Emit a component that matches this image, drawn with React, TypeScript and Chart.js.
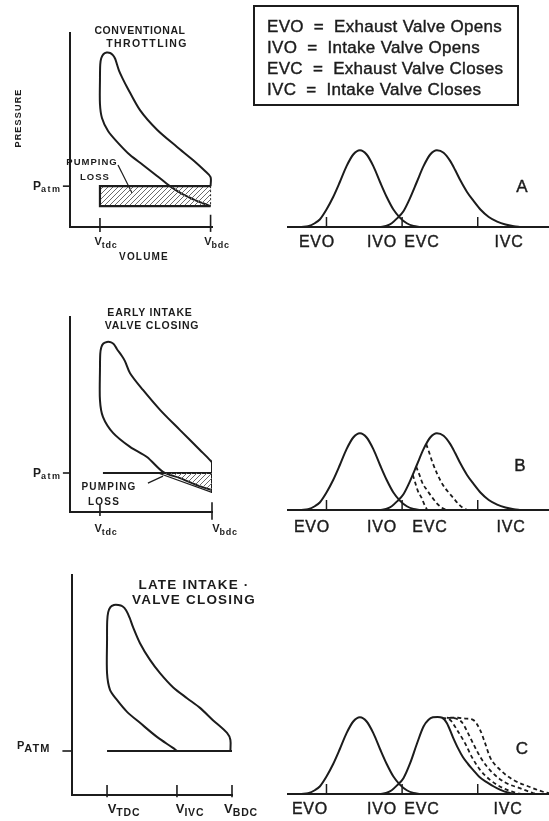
import React, { useEffect, useRef } from 'react';
import { Chart, registerables } from 'chart.js';

Chart.register(...registerables);

type Pt = [number, number];

// ---------------- Valve lift diagrams: crank angle (deg) vs valve lift (mm) ----------------
const crankMin = 15;
const crankMax = 795;
const liftMax = 12;

const exhaustLift: Pt[] = [
  [55, 0], [75, 0.1], [95, 0.45], [110, 0.9], [130, 2.1], [150, 3.6], [170, 5.4], [190, 7.3],
  [210, 8.7], [230, 9.2], [250, 8.7], [270, 7.3], [290, 5.4], [310, 3.6], [330, 2.1], [350, 1.1],
  [370, 0.45], [390, 0.12], [410, 0],
];

const intakeLift: Pt[] = [
  [290, 0], [310, 0.15], [325, 0.45], [340, 1.0], [360, 1.9], [380, 3.5], [400, 5.4], [420, 7.3],
  [440, 8.7], [460, 9.2], [480, 8.9], [500, 7.9], [515, 6.8], [530, 5.6], [550, 4.2], [570, 3.1],
  [590, 2.1], [615, 1.2], [640, 0.65], [665, 0.3], [690, 0.1], [710, 0],
];

const intakeLiftLate: Pt[] = [
  [290, 0], [310, 0.15], [325, 0.45], [340, 1.0], [360, 1.9], [380, 3.7], [400, 6.0], [420, 8.1],
  [435, 8.9], [448, 9.2], [462, 9.25], [476, 9.15], [490, 8.5], [508, 6.8], [523, 5.5], [538, 4.4],
  [553, 3.6], [568, 2.9], [588, 2.0], [610, 1.4], [630, 0.9], [650, 0.5], [675, 0.15], [695, 0],
];

const earlyIvcLift1: Pt[] = [[388, 4.2], [395, 3.3], [403, 2.3], [415, 1.4], [422, 0.7], [431, 0]];
const earlyIvcLift2: Pt[] = [[398, 5.2], [408, 4.2], [416, 3.3], [430, 2.4], [448, 1.4], [462, 0.7], [476, 0.25], [488, 0]];
const earlyIvcLift3: Pt[] = [[428, 7.9], [437, 6.9], [446, 5.8], [460, 4.4], [478, 3.0], [495, 2.1], [510, 1.4], [525, 0.7], [538, 0.25], [550, 0]];

const lateIvcLift1: Pt[] = [[476, 9.15], [499, 8.9], [520, 7.7], [544, 6.1], [565, 4.4], [589, 2.9], [619, 1.7], [658, 0.7], [699, 0.12], [712, 0]];
const lateIvcLift2: Pt[] = [[490, 9.15], [505, 9.12], [520, 9.0], [535, 8.6], [553, 7.3], [574, 5.6], [595, 4.1], [625, 2.6], [663, 1.4], [708, 0.7], [747, 0.12], [760, 0]];
const lateIvcLift3: Pt[] = [[500, 9.15], [523, 9.15], [545, 9.05], [568, 8.9], [589, 7.7], [604, 6.1], [619, 4.4], [649, 2.9], [688, 1.7], [738, 0.84], [775, 0.3], [795, 0.1]];

const valveEventAngles = [130, 356, 582];
const valveTickLift = 1.2;

// ---------------- P-V diagrams: V / V_bdc vs pressure (bar) ----------------
const pAtm = 1.0;

const vTdcA = 0.211;
const vBdcA = 0.99;
const pIntakeA = 0.51;
const cycleA: Pt[] = [
  [0.99, 0.51], [0.88, 0.66], [0.789, 0.81], [0.704, 1.0], [0.613, 1.25], [0.514, 1.52], [0.423, 1.76],
  [0.338, 2.06], [0.268, 2.35], [0.225, 2.67], [0.211, 3.01], [0.211, 3.6], [0.213, 3.98], [0.22, 4.13],
  [0.235, 4.23], [0.258, 4.27], [0.283, 4.26], [0.302, 4.21], [0.318, 4.12], [0.33, 3.99], [0.345, 3.83],
  [0.37, 3.64], [0.401, 3.43], [0.493, 2.86], [0.613, 2.38], [0.754, 1.96], [0.866, 1.64], [0.951, 1.37],
  [0.99, 1.22], [0.99, 1.0],
];

const vTdcB = 0.211;
const vBdcB = 1.0;
const cycleB: Pt[] = [
  [1.0, 0.56], [0.894, 0.69], [0.775, 0.87], [0.655, 1.03], [0.542, 1.41], [0.423, 1.67], [0.303, 2.03],
  [0.232, 2.44], [0.211, 2.87], [0.211, 3.64], [0.213, 4.05], [0.22, 4.22], [0.235, 4.32], [0.26, 4.36],
  [0.29, 4.35], [0.31, 4.3], [0.33, 4.18], [0.36, 4.03], [0.387, 3.87], [0.423, 3.56], [0.514, 3.13],
  [0.634, 2.62], [0.775, 2.1], [0.915, 1.59], [0.986, 1.33], [1.0, 1.26], [1.0, 0.49],
];
const pumpingB: Pt[] = [[0.665, 1.0], [1.0, 1.0], [1.0, 0.56], [0.894, 0.69], [0.775, 0.87]];

const vTdcC = 0.219;
const vIvcC = 0.656;
const vBdcC = 1.0;
const cycleC: Pt[] = [
  [0.656, 1.0], [0.631, 1.07], [0.531, 1.32], [0.425, 1.64], [0.344, 1.89], [0.281, 2.16], [0.2375, 2.39],
  [0.219, 2.77], [0.219, 3.52], [0.22, 3.95], [0.226, 4.15], [0.24, 4.27], [0.262, 4.32], [0.29, 4.32],
  [0.315, 4.29], [0.338, 4.2], [0.36, 4.03], [0.381, 3.82], [0.425, 3.45], [0.4875, 3.07], [0.55, 2.77],
  [0.631, 2.45], [0.719, 2.2], [0.8, 1.98], [0.881, 1.7], [0.969, 1.41], [0.99, 1.25], [0.99, 1.0],
];

// ---------------- drawing helpers ----------------
const INK = '#1c1c1c';
const FONT = "'Liberation Sans', Arial, Helvetica, sans-serif";

const xy = (pts: Pt[]) => pts.map(([x, y]) => ({ x, y }));
const lineDs = (pts: Pt[], o: any = {}) => ({
  data: xy(pts),
  borderColor: INK,
  borderWidth: 2,
  pointRadius: 0,
  fill: false,
  tension: 0,
  ...o,
});

function hatchPattern(): CanvasPattern | string {
  const c = document.createElement('canvas');
  c.width = 5;
  c.height = 5;
  const g = c.getContext('2d');
  if (!g) return '#bbb';
  g.strokeStyle = '#6a6a6a';
  g.lineWidth = 1;
  g.beginPath();
  g.moveTo(0, 5);
  g.lineTo(5, 0);
  g.moveTo(-1, 1);
  g.lineTo(1, -1);
  g.moveTo(4, 6);
  g.lineTo(6, 4);
  g.stroke();
  return g.createPattern(c, 'repeat') || '#bbb';
}

function baseConfig(datasets: any[], xr: [number, number], yr: [number, number], padding: any, showY: boolean) {
  return {
    type: 'line',
    data: { datasets },
    options: {
      responsive: false,
      animation: false,
      events: [],
      layout: { padding },
      plugins: { legend: { display: false }, tooltip: { enabled: false }, title: { display: false } },
      elements: { point: { radius: 0 } },
      scales: {
        x: {
          type: 'linear', min: xr[0], max: xr[1],
          grid: { display: false, drawTicks: false }, ticks: { display: false },
          border: { display: true, color: INK, width: 2 },
        },
        y: {
          type: 'linear', min: yr[0], max: yr[1], display: showY,
          grid: { display: false, drawTicks: false }, ticks: { display: false },
          border: { display: true, color: INK, width: 2 },
        },
      },
    },
  };
}

function valveConfig(intake: Pt[], dashed: Pt[][], padding: any) {
  const ds: any[] = [
    lineDs(exhaustLift, { cubicInterpolationMode: 'monotone' }),
    lineDs(intake, { cubicInterpolationMode: 'monotone' }),
    ...dashed.map((d) => lineDs(d, { cubicInterpolationMode: 'monotone', borderDash: [4, 3], borderWidth: 1.8 })),
    ...valveEventAngles.map((a) => lineDs([[a, 0], [a, valveTickLift]], { borderWidth: 1.5, clip: false })),
  ];
  return baseConfig(ds, [crankMin, crankMax], [0, liftMax], padding, false);
}

function tickDs(v: number, lo: number, hi: number) {
  return lineDs([[v, lo], [v, hi]], { borderWidth: 1.6, clip: false });
}

function pvConfigA() {
  const ds = [
    lineDs([[vBdcA, pAtm], [vTdcA, pAtm], [vTdcA, pIntakeA], [vBdcA, pIntakeA]], {
      fill: 'shape', backgroundColor: hatchPattern(), borderWidth: 2.2,
    }),
    lineDs([[vBdcA, pAtm], [vBdcA, pIntakeA]], { borderWidth: 1, borderDash: [2, 2] }),
    lineDs(cycleA, { tension: 0.3 }),
    lineDs([[0.338, 1.52], [0.437, 0.83]], { borderWidth: 1.2, clip: false }),
    tickDs(vTdcA, -0.12, 0.22),
    tickDs(vBdcA, -0.12, 0.3),
    lineDs([[-0.05, pAtm], [0, pAtm]], { borderWidth: 1.6, clip: false }),
  ];
  return baseConfig(ds, [0, 1], [0, 4.75], { left: 70, right: 48, top: 33, bottom: 43 }, true);
}

function pvConfigB() {
  const ds = [
    lineDs(pumpingB, { fill: 'shape', backgroundColor: hatchPattern(), borderWidth: 0 }),
    lineDs([[0.232, pAtm], [vBdcB, pAtm]], { borderWidth: 2.2 }),
    lineDs(cycleB, { tension: 0.3 }),
    lineDs([[0.62, 1.0], [1.0, 0.5]], { borderWidth: 1.2 }),
    lineDs([[0.549, 0.74], [0.655, 0.92]], { borderWidth: 1.2, clip: false }),
    tickDs(vTdcB, -0.1, 0.2),
    tickDs(vBdcB, -0.2, 0.25),
    lineDs([[-0.05, pAtm], [0, pAtm]], { borderWidth: 1.6, clip: false }),
  ];
  return baseConfig(ds, [0, 1], [0, 5], { left: 70, right: 48, top: 27, bottom: 38 }, true);
}

function pvConfigC() {
  const ds = [
    lineDs([[vTdcC, pAtm], [vBdcC, pAtm]], { borderWidth: 2 }),
    lineDs(cycleC, { tension: 0.3 }),
    tickDs(vTdcC, -0.05, 0.23),
    tickDs(vIvcC, -0.05, 0.23),
    tickDs(vBdcC, -0.05, 0.23),
    lineDs([[-0.06, pAtm], [0, pAtm]], { borderWidth: 1.6, clip: false }),
  ];
  return baseConfig(ds, [0, 1], [0, 5], { left: 72, right: 28, top: 15, bottom: 26 }, true);
}

function ChartBox({ left, top, width, height, make }: { left: number; top: number; width: number; height: number; make: () => any }) {
  const ref = useRef<HTMLCanvasElement>(null);
  useEffect(() => {
    if (!ref.current) return;
    const chart = new Chart(ref.current, make());
    return () => chart.destroy();
  }, []);
  return (
    <canvas
      ref={ref}
      width={width}
      height={height}
      style={{ position: 'absolute', left, top, width, height }}
    />
  );
}

function Txt({ x, y, children, size = 10, bold = true, ls = 0, anchor = 'center', rotate = 0, stroke = 0 }: any) {
  const tx = anchor === 'center' ? '-50%' : anchor === 'right' ? '-100%' : '0';
  return (
    <div
      style={{
        position: 'absolute', left: x, top: y,
        transform: `translate(${tx}, -50%) rotate(${rotate}deg)`,
        fontSize: size, fontWeight: bold ? 700 : 400, letterSpacing: ls,
        whiteSpace: 'pre', lineHeight: 1, fontFamily: FONT, color: INK,
        WebkitTextStroke: stroke ? `${stroke}px ${INK}` : undefined,
      }}
    >
      {children}
    </div>
  );
}

function Sub({ x, y, main, sub, big = 11, small = 9, ls = 0.8, drop = 3 }: any) {
  return (
    <Txt x={x} y={y}>
      <span style={{ fontSize: big }}>{main}</span>
      <span style={{ fontSize: small, position: 'relative', top: drop, letterSpacing: ls }}>{sub}</span>
    </Txt>
  );
}

function EventLabels({ y, xs }: { y: number; xs: number[] }) {
  const names = ['EVO', 'IVO', 'EVC', 'IVC'];
  return (
    <>
      {names.map((n, i) => (
        <Txt key={n} x={xs[i]} y={y} size={16} bold={false} ls={0.8} stroke={0.4}>{n}</Txt>
      ))}
    </>
  );
}

const legendLines = [
  'EVO  =  Exhaust Valve Opens',
  'IVO  =  Intake Valve Opens',
  'EVC  =  Exhaust Valve Closes',
  'IVC  =  Intake Valve Closes',
];

export default function App() {
  return (
    <div style={{ position: 'absolute', left: 0, top: 0, width: 549, height: 821, background: '#fff', overflow: 'hidden' }}>
      <ChartBox left={0} top={0} width={260} height={270} make={pvConfigA} />
      <ChartBox left={0} top={290} width={260} height={260} make={pvConfigB} />
      <ChartBox left={0} top={560} width={260} height={261} make={pvConfigC} />
      <ChartBox left={260} top={110} width={289} height={130} make={() => valveConfig(intakeLift, [], { left: 28, right: 0, top: 17, bottom: 13 })} />
      <ChartBox left={260} top={400} width={289} height={130} make={() => valveConfig(intakeLift, [earlyIvcLift1, earlyIvcLift2, earlyIvcLift3], { left: 28, right: 0, top: 10, bottom: 20 })} />
      <ChartBox left={260} top={680} width={289} height={130} make={() => valveConfig(intakeLiftLate, [lateIvcLift1, lateIvcLift2, lateIvcLift3], { left: 28, right: 0, top: 14, bottom: 16 })} />

      {/* legend box */}
      <div style={{ position: 'absolute', left: 253, top: 5, width: 266, height: 101, border: `2px solid ${INK}`, boxSizing: 'border-box' }} />
      {legendLines.map((t, i) => (
        <Txt key={t} x={267} y={26 + i * 21} anchor="left" size={17} bold={false} ls={0.3} stroke={0.4}>{t}</Txt>
      ))}

      {/* panel A */}
      <Txt x={140} y={30} size={10.5} ls={0.6}>CONVENTIONAL</Txt>
      <Txt x={147} y={43} size={10.5} ls={1.4}>THROTTLING</Txt>
      <Txt x={18} y={118} size={9} ls={1.2} rotate={-90}>PRESSURE</Txt>
      <Txt x={33} y={186} anchor="left">
        <span style={{ fontSize: 12 }}>P</span>
        <span style={{ fontSize: 9, letterSpacing: 1.5, position: 'relative', top: 2 }}>atm</span>
      </Txt>
      <Txt x={92} y={162} size={9.5} ls={1}>PUMPING</Txt>
      <Txt x={95} y={177} size={9.5} ls={1}>LOSS</Txt>
      <Sub x={106} y={241} main="V" sub="tdc" />
      <Sub x={217} y={241} main="V" sub="bdc" />
      <Txt x={144} y={257} size={10} ls={1.2}>VOLUME</Txt>
      <EventLabels y={242} xs={[317, 382, 422, 509]} />
      <Txt x={522} y={186} size={17} bold={false} stroke={0.4}>A</Txt>

      {/* panel B */}
      <Txt x={150} y={312} size={10.5} ls={0.8}>EARLY INTAKE</Txt>
      <Txt x={152} y={325} size={10.5} ls={0.8}>VALVE CLOSING</Txt>
      <Txt x={33} y={473} anchor="left">
        <span style={{ fontSize: 12 }}>P</span>
        <span style={{ fontSize: 9, letterSpacing: 1.5, position: 'relative', top: 2 }}>atm</span>
      </Txt>
      <Txt x={109} y={487} size={10} ls={1.2}>PUMPING</Txt>
      <Txt x={104} y={502} size={10} ls={1.2}>LOSS</Txt>
      <Sub x={106} y={528} main="V" sub="tdc" />
      <Sub x={225} y={528} main="V" sub="bdc" />
      <EventLabels y={527} xs={[312, 382, 430, 511]} />
      <Txt x={520} y={465} size={17} bold={false} stroke={0.4}>B</Txt>

      {/* panel C */}
      <Txt x={194} y={585} size={13.5} ls={1.2}>LATE INTAKE ·</Txt>
      <Txt x={194} y={600} size={13.5} ls={1.2}>VALVE CLOSING</Txt>
      <Txt x={17} y={748} anchor="left">
        <span style={{ fontSize: 11, position: 'relative', top: -3 }}>P</span>
        <span style={{ fontSize: 11, letterSpacing: 1 }}>ATM</span>
      </Txt>
      <Sub x={124} y={808} main="V" sub="TDC" big={13} small={10.5} />
      <Sub x={190} y={808} main="V" sub="IVC" big={13} small={10.5} />
      <Sub x={241} y={808} main="V" sub="BDC" big={13} small={10.5} />
      <EventLabels y={809} xs={[310, 382, 422, 508]} />
      <Txt x={522} y={748} size={17} bold={false} stroke={0.4}>C</Txt>
    </div>
  );
}
